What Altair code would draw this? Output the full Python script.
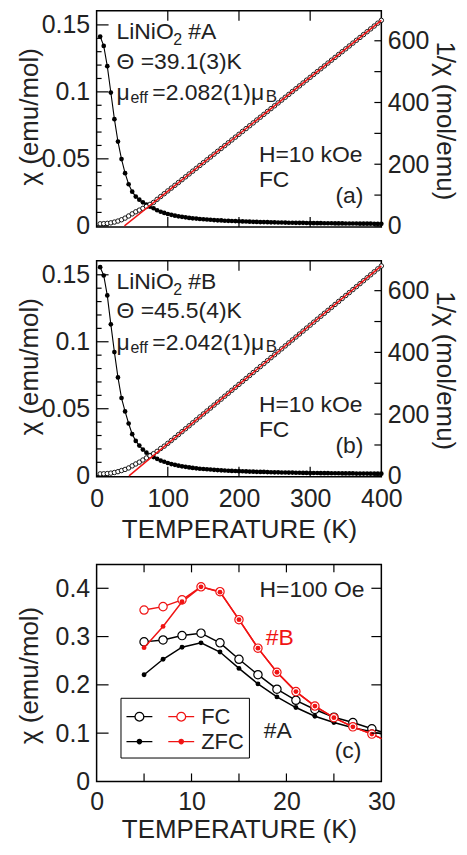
import altair as alt
import pandas as pd

# ---------------- data ----------------
T_AB = [5 * i for i in range(1, 81)]  # 5 K steps, 5 ... 400 K

chi_A = [0.1413, 0.1343, 0.1192, 0.0995, 0.0796, 0.0629, 0.0498, 0.0393, 0.0310, 0.0255,
         0.0218, 0.0195, 0.0175, 0.0158, 0.0143, 0.0131, 0.0116, 0.0105, 0.0096, 0.0088,
         0.0082, 0.0076, 0.0071, 0.0067, 0.0063, 0.0059, 0.0056, 0.0054, 0.0051, 0.0049,
         0.0047, 0.0045, 0.0043, 0.0041, 0.0040, 0.0038, 0.0037, 0.0036, 0.0035, 0.0034,
         0.0033, 0.0032, 0.0031, 0.0030, 0.0029, 0.0028, 0.0028, 0.0027, 0.0026, 0.0026,
         0.0025, 0.0025, 0.0024, 0.0023, 0.0023, 0.0022, 0.0022, 0.0022, 0.0021, 0.0021,
         0.0020, 0.0020, 0.0020, 0.0019, 0.0019, 0.0019, 0.0018, 0.0018, 0.0018, 0.0017,
         0.0017, 0.0017, 0.0017, 0.0016, 0.0016, 0.0016, 0.0016, 0.0015, 0.0015, 0.0015]
inv_A = [7.1, 7.5, 8.4, 10.1, 12.6, 15.9, 20.1, 25.4, 32.3, 39.2,
         45.9, 51.3, 57.1, 63.3, 69.9, 76.3, 86.2, 95.2, 104.5, 113.5,
         122.6, 131.7, 140.8, 150.0, 159.2, 168.4, 177.5, 186.7, 195.9, 205.1,
         214.2, 223.4, 232.6, 241.8, 251.0, 260.2, 269.4, 278.6, 287.8, 297.0,
         306.3, 315.5, 324.7, 333.9, 343.2, 352.4, 361.6, 370.9, 380.1, 389.3,
         398.6, 407.8, 417.0, 426.2, 435.5, 444.7, 453.9, 463.2, 472.4, 481.6,
         490.9, 500.1, 509.3, 518.5, 527.8, 537.0, 546.2, 555.5, 564.7, 573.9,
         583.2, 592.4, 601.6, 610.8, 620.1, 629.3, 638.5, 647.8, 657.0, 666.2]
chi_B = [0.1557, 0.1495, 0.1346, 0.1130, 0.0923, 0.0734, 0.0580, 0.0480, 0.0390, 0.0310,
         0.0260, 0.0225, 0.0195, 0.0172, 0.0154, 0.0139, 0.0126, 0.0113, 0.0104, 0.0095,
         0.0087, 0.0081, 0.0075, 0.0070, 0.0066, 0.0062, 0.0058, 0.0055, 0.0052, 0.0050,
         0.0048, 0.0046, 0.0044, 0.0042, 0.0040, 0.0039, 0.0037, 0.0036, 0.0035, 0.0034,
         0.0033, 0.0032, 0.0031, 0.0030, 0.0029, 0.0028, 0.0028, 0.0027, 0.0026, 0.0025,
         0.0025, 0.0024, 0.0024, 0.0023, 0.0023, 0.0022, 0.0022, 0.0021, 0.0021, 0.0020,
         0.0020, 0.0020, 0.0019, 0.0019, 0.0019, 0.0018, 0.0018, 0.0018, 0.0017, 0.0017,
         0.0017, 0.0017, 0.0016, 0.0016, 0.0016, 0.0016, 0.0015, 0.0015, 0.0015, 0.0015]
inv_B = [6.4, 6.7, 7.4, 8.8, 10.8, 13.6, 17.2, 20.8, 25.6, 32.3,
         38.5, 44.4, 51.3, 58.1, 64.9, 71.9, 79.4, 88.5, 96.2, 105.3,
         114.6, 124.0, 133.6, 143.1, 152.7, 162.2, 171.8, 181.4, 191.0, 200.5,
         210.1, 219.7, 229.3, 238.9, 248.5, 258.1, 267.6, 277.2, 286.8, 296.4,
         306.0, 315.6, 325.2, 334.8, 344.4, 354.0, 363.6, 373.2, 382.8, 392.4,
         401.9, 411.5, 421.1, 430.7, 440.3, 449.9, 459.5, 469.1, 478.7, 488.3,
         497.9, 507.5, 517.1, 526.7, 536.2, 545.8, 555.4, 565.0, 574.6, 584.2,
         593.8, 603.4, 613.0, 622.6, 632.2, 641.8, 651.4, 661.0, 670.6, 680.1]

fit_A_T = [39.1, 400.0]
fit_A_inv = [0.0, 666.2]
fit_B_T = [45.5, 400.0]
fit_B_inv = [0.0, 680.1]

T_C = [5, 7, 9, 11, 13, 15, 17, 19, 21, 23, 25, 27, 29, 31]
A_FC = [0.289, 0.293, 0.302, 0.307, 0.287, 0.253, 0.221, 0.191, 0.168, 0.149, 0.133, 0.122, 0.109, 0.096]
A_ZFC = [0.221, 0.253, 0.278, 0.287, 0.268, 0.234, 0.202, 0.175, 0.153, 0.135, 0.122, 0.111, 0.103, 0.094]
B_FC = [0.355, 0.362, 0.376, 0.403, 0.393, 0.335, 0.276, 0.226, 0.186, 0.156, 0.132, 0.113, 0.098, 0.080]
B_ZFC = [0.277, 0.321, 0.372, 0.403, 0.392, 0.335, 0.276, 0.226, 0.186, 0.156, 0.132, 0.113, 0.098, 0.080]

X_TICKS_AB = [100, 200, 300]
X_LABELS_AB = [0, 100, 200, 300, 400]
YL_MAJOR_AB = [0, 0.05, 0.1, 0.15]
YL_MINOR_AB = [0.01, 0.02, 0.03, 0.04, 0.06, 0.07, 0.08, 0.09, 0.11, 0.12, 0.13, 0.14]
YR_TICKS_AB = [0, 100, 200, 300, 400, 500, 600]
YR_LABELS_AB = [0, 200, 400, 600]
X_TICKS_C = [5, 10, 15, 20, 25]
X_LABELS_C = [0, 10, 20, 30]
Y_TICKS_C = [0.1, 0.2, 0.3, 0.4]
Y_LABELS_C = [0, 0.1, 0.2, 0.3, 0.4]

ANNOT_A = ["LiNiO", "2", "#A", "Θ =39.1(3)K", "μ", "eff", "=2.082(1)μ", "B", "H=10 kOe", "FC", "(a)"]
ANNOT_B = ["LiNiO", "2", "#B", "Θ =45.5(4)K", "μ", "eff", "=2.042(1)μ", "B", "H=10 kOe", "FC", "(b)"]
ANNOT_C = ["H=100 Oe", "#B", "#A", "(c)"]
LEG_KEYS = ["1kFC", "2kZFC", "3rFC", "4rZFC"]

# ---------------- style ----------------
FONT = "Liberation Sans"
TXT = "#222222"
RED = "#f01414"
W = 286
H_AB = 217
H_C = 218
LEG_Y = 690  # legend box top, measured from the chart origin

ANNOT_POS_AB = [(20, 28, 23, "left"), (77, 34, 16, "left"), (92, 28, 23, "left"),
                (20, 58, 23, "left"), (20, 90, 23, "left"), (34, 93, 16, "left"),
                (56, 90, 23, "left"), (170, 92, 17, "left"), (163, 152, 23, "left"),
                (163, 177, 23, "left"), (268, 193, 23, "right")]
ANNOT_POS_C = [(269, 33, 23, "right", TXT), (170, 81, 23, "left", RED),
               (168, 174, 23, "left", TXT), (266, 194, 23, "right", TXT)]


def label(s, x, y, size=23, color=TXT, align="left"):
    return alt.Chart(alt.Data(values=[{"s": s}])).mark_text(
        font=FONT, fontSize=size, color=color, align=align, baseline="alphabetic"
    ).encode(text="s:N", x=alt.value(x), y=alt.value(y))


def xticks(vals, H, L, xs, xax):
    df = pd.DataFrame({"v": vals})
    top = alt.Chart(df).mark_rule(color="black", strokeWidth=1.2).encode(
        x=alt.X("v:Q", scale=xs, axis=xax), y=alt.value(0), y2=alt.value(L))
    bot = alt.Chart(df).mark_rule(color="black", strokeWidth=1.2).encode(
        x=alt.X("v:Q", scale=xs, axis=xax), y=alt.value(H - L), y2=alt.value(H))
    return [top, bot]


def yticks(vals, L, ys, yax, right=False):
    df = pd.DataFrame({"v": vals})
    if right:
        xe = dict(x=alt.value(W - L), x2=alt.value(W))
    else:
        xe = dict(x=alt.value(0), x2=alt.value(L))
    return alt.Chart(df).mark_rule(color="black", strokeWidth=1.2).encode(
        y=alt.Y("v:Q", scale=ys, axis=yax), **xe)


def bottom_axis(values, label_pad, title_y):
    return alt.Axis(orient="bottom", values=values, format="d", title="TEMPERATURE (K)",
                    labelPadding=label_pad, labelBaseline="alphabetic", labelFlush=False,
                    labelOverlap=False, titleX=W / 2, titleY=title_y,
                    titleBaseline="alphabetic", titleAlign="center")


def panel_ab(T, chi, inv, fT, fInv, texts, show_x):
    df = pd.DataFrame({"T": T, "chi": chi, "inv": inv})
    fit = pd.DataFrame({"T": fT, "inv": fInv})
    xs = alt.Scale(domain=[0, 400], nice=False, zero=False)
    xax = bottom_axis(X_LABELS_AB, 30, 61) if show_x else None
    ysL = alt.Scale(domain=[-0.0008, 0.1605], nice=False, zero=False)
    ysR = alt.Scale(domain=[-3, 697], nice=False, zero=False)
    axL = alt.Axis(orient="left", values=YL_MAJOR_AB, format="~g", title="χ (emu/mol)",
                   labelPadding=7, labelOverlap=False, titleX=-54, titleY=106,
                   titleAngle=270, titleBaseline="bottom")
    axR = alt.Axis(orient="right", values=YR_LABELS_AB, format="d", title="1/χ (mol/emu)",
                   labelPadding=6, labelOverlap=False, titleX=50, titleY=110,
                   titleAngle=90, titleBaseline="bottom")
    base = alt.Chart(df)
    chi_line = base.mark_line(color="black", strokeWidth=1.1).encode(
        x=alt.X("T:Q", scale=xs, axis=xax), y=alt.Y("chi:Q", scale=ysL, axis=axL))
    chi_pts = base.mark_circle(color="black", size=22, opacity=1).encode(
        x=alt.X("T:Q", scale=xs, axis=xax), y=alt.Y("chi:Q", scale=ysL, axis=axL))
    left = alt.layer(chi_line, chi_pts,
                     yticks(YL_MAJOR_AB, 12, ysL, axL),
                     yticks(YL_MINOR_AB, 5, ysL, axL))
    inv_pts = base.mark_point(shape="circle", filled=True, fill="white", stroke="black",
                              strokeWidth=0.9, size=20, opacity=1).encode(
        x=alt.X("T:Q", scale=xs, axis=xax), y=alt.Y("inv:Q", scale=ysR, axis=axR))
    fit_line = alt.Chart(fit).mark_line(color=RED, strokeWidth=1.5).encode(
        x=alt.X("T:Q", scale=xs, axis=xax), y=alt.Y("inv:Q", scale=ysR, axis=axR))
    labels = [label(s, p[0], p[1], p[2], TXT, p[3]) for s, p in zip(texts, ANNOT_POS_AB)]
    right = alt.layer(inv_pts, fit_line, yticks(YR_TICKS_AB, 7, ysR, axR, right=True),
                      *xticks(X_TICKS_AB, H_AB, 10, xs, xax), *labels)
    return alt.layer(left, right).resolve_scale(y="independent").properties(width=W, height=H_AB)


pa = panel_ab(T_AB, chi_A, inv_A, fit_A_T, fit_A_inv, ANNOT_A, False)
pb = panel_ab(T_AB, chi_B, inv_B, fit_B_T, fit_B_inv, ANNOT_B, True)

# ---------------- panel (c) ----------------
dfc = pd.DataFrame({"T": T_C, "A_FC": A_FC, "A_ZFC": A_ZFC, "B_FC": B_FC, "B_ZFC": B_ZFC})
xsC = alt.Scale(domain=[0, 30], nice=False, zero=False)
ysC = alt.Scale(domain=[0, 0.4495], nice=False, zero=False)
axXC = bottom_axis(X_LABELS_C, 28, 56)
axYC = alt.Axis(orient="left", values=Y_LABELS_C, format="~g", title="χ (emu/mol)",
                labelPadding=7, labelOverlap=False, titleX=-54, titleY=111,
                titleAngle=270, titleBaseline="bottom")


def series(col, color, filled):
    enc = dict(x=alt.X("T:Q", scale=xsC, axis=axXC), y=alt.Y(col + ":Q", scale=ysC, axis=axYC))
    line = alt.Chart(dfc).mark_line(color=color, strokeWidth=1.5, clip=True).encode(**enc)
    if filled:
        pts = alt.Chart(dfc).mark_circle(color=color, size=24, opacity=1, clip=True).encode(**enc)
    else:
        pts = alt.Chart(dfc).mark_point(shape="circle", filled=True, fill="white", stroke=color,
                                        strokeWidth=1.2, size=70, opacity=1, clip=True).encode(**enc)
    return line, pts


aF_l, aF_p = series("A_FC", "black", False)
aZ_l, aZ_p = series("A_ZFC", "black", True)
bF_l, bF_p = series("B_FC", RED, False)
bZ_l, bZ_p = series("B_ZFC", RED, True)

FC_PATH = "M-1,0H-0.34M0.34,0H1M-0.34,0A0.34,0.34,0,1,1,0.34,0A0.34,0.34,0,1,1,-0.34,0Z"
ZFC_PATH = "M-1,0H1M-0.17,0A0.17,0.17,0,1,1,0.17,0A0.17,0.17,0,1,1,-0.17,0Z"
leg = alt.Legend(orient="none", legendX=24, legendY=LEG_Y, columns=2, direction="vertical",
                 title=None, padding=5, strokeColor="black", symbolSize=676,
                 symbolStrokeWidth=1.3, labelFont=FONT, labelFontSize=22, labelColor=TXT,
                 labelOffset=6, columnPadding=6, rowPadding=0,
                 labelExpr="substring(datum.label,1,2)=='k' ? '' : substring(datum.label,2)")
legend_layer = alt.Chart(pd.DataFrame({"key": LEG_KEYS})).transform_filter("false").mark_point(
    filled=True, opacity=1).encode(
    shape=alt.Shape("key:N", scale=alt.Scale(domain=LEG_KEYS, range=[FC_PATH, ZFC_PATH, FC_PATH, ZFC_PATH]), legend=leg),
    fill=alt.Fill("key:N", scale=alt.Scale(domain=LEG_KEYS, range=["white", "black", "white", RED]), legend=leg),
    stroke=alt.Stroke("key:N", scale=alt.Scale(domain=LEG_KEYS, range=["black", "black", RED, RED]), legend=leg),
)

labels_c = [label(s, p[0], p[1], p[2], p[4], p[3]) for s, p in zip(ANNOT_C, ANNOT_POS_C)]
pc = alt.layer(
    aF_l, aZ_l, aF_p, aZ_p, bF_l, bZ_l, bF_p, bZ_p,
    yticks(Y_TICKS_C, 12, ysC, axYC), yticks(Y_TICKS_C, 10, ysC, axYC, right=True),
    *xticks(X_TICKS_C, H_C, 8, xsC, axXC), *labels_c, legend_layer,
).properties(width=W, height=H_C)

chart = alt.vconcat(pa, pb, pc, spacing=19).properties(
    padding={"left": 8, "top": -1, "right": 1, "bottom": -2}
).configure_view(stroke="black", strokeWidth=1.5).configure_axis(
    labelFont=FONT, titleFont=FONT, labelFontSize=25, titleFontSize=26,
    labelColor=TXT, titleColor=TXT, titleFontWeight="normal",
    grid=False, domain=False, ticks=False, tickSize=0,
)

chart.save("out.html", embed_options={"renderer": "svg", "actions": False})
